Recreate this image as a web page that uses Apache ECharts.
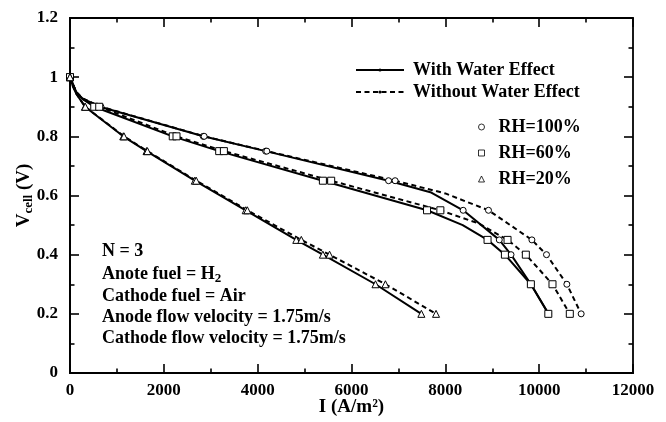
<!DOCTYPE html>
<html><head><meta charset="utf-8">
<script src="https://cdn.jsdelivr.net/npm/echarts@6/dist/echarts.min.js"></script>
<style>html,body{margin:0;padding:0;background:#fff}#c{width:666px;height:422px}</style>
</head><body><div id="c"></div>
<script>
// ---- data (I in A/m^2, Vcell in V) ----
const xTicks = [0, 2000, 4000, 6000, 8000, 10000, 12000];
const yTicks = [0, 0.2, 0.4, 0.6, 0.8, 1.0, 1.2];
const markerLevels = [1.0, 0.9, 0.8, 0.75, 0.65, 0.55, 0.45, 0.4, 0.3, 0.2];

const rh100Wet = [[0,1.0],[70,0.973],[130,0.95],[270,0.927],[640,0.9],[2840,0.8],[4170,0.75],[6790,0.65],[7700,0.61],[8380,0.55],[9150,0.45],[9400,0.4],[9825,0.3],[10200,0.2]];
const rh100Dry = [[0,1.0],[70,0.973],[130,0.95],[270,0.928],[660,0.9],[2860,0.8],[4195,0.75],[6930,0.65],[8000,0.607],[8920,0.55],[9845,0.45],[10156,0.4],[10590,0.3],[10895,0.2]];
const rh60Wet  = [[0,1.0],[70,0.973],[130,0.95],[270,0.926],[517,0.9],[2190,0.8],[3180,0.75],[5390,0.65],[7610,0.55],[8370,0.5],[8900,0.45],[9270,0.4],[9823,0.3],[10195,0.2]];
const rh60Dry  = [[0,1.0],[70,0.973],[130,0.95],[270,0.928],[623,0.9],[2270,0.8],[3280,0.75],[5567,0.65],[7894,0.55],[8720,0.505],[9326,0.45],[9716,0.4],[10284,0.3],[10653,0.2]];
const rh20Wet  = [[0,1.0],[60,0.97],[130,0.945],[319,0.9],[1135,0.8],[1631,0.75],[2660,0.65],[3745,0.55],[4823,0.45],[5390,0.4],[6511,0.3],[7489,0.2]];
const rh20Dry  = [[0,1.0],[60,0.97],[130,0.945],[326,0.9],[1150,0.8],[1650,0.75],[2690,0.65],[3780,0.55],[4930,0.45],[5532,0.4],[6723,0.3],[7802,0.2]];

const legendLines = ['With Water Effect', 'Without Water Effect'];
const legendRH = ['RH=100%', 'RH=60%', 'RH=20%'];
const notes = ['N = 3', 'Anote fuel = H', 'Cathode fuel = Air', 'Anode flow velocity = 1.75m/s', 'Cathode flow velocity = 1.75m/s'];

// ---- styling ----
const FONT = "'Liberation Serif','Times New Roman',Times,serif";
const DASH = [5, 3.5];

function toItems(pts, sym) {
  return pts.map(p => ({ value: p, symbol: markerLevels.includes(p[1]) ? sym : 'none' }));
}
function curve(name, pts, sym, size, dashed) {
  return {
    type: 'line', name: name, xAxisIndex: 0, yAxisIndex: 0, data: toItems(pts, sym),
    symbolSize: size, showAllSymbol: true, smooth: false,
    lineStyle: { color: '#000', width: 2, type: dashed ? DASH : 'solid', join: 'round' },
    itemStyle: { color: '#fff', borderColor: '#000', borderWidth: 1 },
    emphasis: { disabled: true }, silent: true
  };
}

// frame axes carrying inward ticks
function frameAxis(pos, range) {
  return Object.assign({
    type: 'value', position: pos, offset: 0,
    axisLine: { show: true, onZero: false, lineStyle: { color: '#000', width: 1.8 } },
    axisTick: { show: true, inside: true, length: 9, lineStyle: { color: '#000', width: 1.6 } },
    minorTick: { show: true, splitNumber: 2, length: 4.5, lineStyle: { color: '#000', width: 1.6 } },
    axisLabel: { show: false },
    splitLine: { show: false }, minorSplitLine: { show: false }
  }, range);
}
const labelStyle = { color: '#000', fontFamily: FONT, fontWeight: 'bold', fontSize: 17 };

const xRange = { min: xTicks[0], max: xTicks[xTicks.length - 1], interval: xTicks[1] - xTicks[0] };
const yRange = { min: yTicks[0], max: yTicks[yTicks.length - 1], interval: 0.2 };

const chart = echarts.init(document.getElementById('c'), null, { renderer: 'canvas' });
const legendText = { color: '#000', fontFamily: FONT, fontWeight: 'bold', fontSize: 18, lineHeight: 18 };

const noteY = [251, 274, 296, 317, 338];
const graphics = notes.map((t, i) => {
  const isH2 = i === 1;
  return {
    type: 'text', x: 102, y: noteY[i], silent: true,
    style: isH2 ? {
      text: '{a|' + t + '}{b|2}',
      verticalAlign: 'middle',
      rich: {
        a: { fontFamily: FONT, fontWeight: 'bold', fontSize: 18, lineHeight: 22, fill: '#000', color: '#000' },
        b: { fontFamily: FONT, fontWeight: 'bold', fontSize: 13, lineHeight: 12, verticalAlign: 'bottom', fill: '#000', color: '#000' }
      }
    } : {
      text: t, verticalAlign: 'middle',
      font: 'bold 18px ' + FONT, fill: '#000'
    }
  };
});

chart.setOption({
  animation: false,
  backgroundColor: '#fff',
  grid: { left: 70, right: 33, top: 18, bottom: 49, containLabel: false, outerBoundsMode: 'none' },
  xAxis: [
    Object.assign({ type: 'value', position: 'bottom', name: 'I (A/m²)', nameLocation: 'middle', nameGap: 25, nameMoveOverlap: false,
      nameTextStyle: { color: '#000', fontFamily: FONT, fontWeight: 'bold', fontSize: 19 },
      axisLine: { show: true, onZero: false, lineStyle: { color: '#000', width: 1.8 } },
      axisTick: { show: false }, splitLine: { show: false },
      axisLabel: Object.assign({ margin: 9, formatter: v => String(v) }, labelStyle) }, xRange),
    frameAxis('top', xRange),
    frameAxis('bottom', xRange)
  ],
  yAxis: [
    Object.assign({ type: 'value', position: 'left', name: '{a|V}{b|cell}{a| (V)}', nameLocation: 'middle', nameGap: 35, nameRotate: 90, nameMoveOverlap: false,
      nameTextStyle: { rich: {
        a: { color: '#000', fontFamily: FONT, fontWeight: 'bold', fontSize: 19, lineHeight: 22 },
        b: { color: '#000', fontFamily: FONT, fontWeight: 'bold', fontSize: 13, lineHeight: 12, verticalAlign: 'bottom' } } },
      axisLine: { show: true, onZero: false, lineStyle: { color: '#000', width: 1.8 } },
      axisTick: { show: false }, splitLine: { show: false },
      axisLabel: Object.assign({ margin: 12, formatter: v => String(+v.toFixed(1)) }, labelStyle) }, yRange),
    frameAxis('right', yRange),
    frameAxis('left', yRange)
  ],
  legend: [
    { data: legendLines, orient: 'vertical', left: 355, top: 61, padding: 0, itemWidth: 48, itemHeight: 4, itemGap: 4,
      selectedMode: false, textStyle: Object.assign({ padding: [0, 0, 0, 4] }, legendText) },
    { data: [{ name: legendRH[0], icon: 'circle' }, { name: legendRH[1], icon: 'rect' }, { name: legendRH[2], icon: 'triangle' }],
      orient: 'vertical', left: 478, top: 118, padding: 0, itemWidth: 6, itemHeight: 6, itemGap: 8, selectedMode: false,
      itemStyle: { color: '#fff', borderColor: '#000', borderWidth: 1 },
      textStyle: Object.assign({ padding: [0, 0, 0, 9] }, legendText) }
  ],
  graphic: graphics,
  series: [
    { type: 'line', name: legendLines[0], data: [], symbol: 'circle', symbolSize: 3, itemStyle: { color: '#000' }, lineStyle: { color: '#000', width: 2 } },
    { type: 'line', name: legendLines[1], data: [], symbol: 'circle', symbolSize: 3, itemStyle: { color: '#000' }, lineStyle: { color: '#000', width: 2, type: DASH } },
    { type: 'scatter', name: legendRH[0], data: [], symbol: 'circle', itemStyle: { color: '#fff', borderColor: '#000', borderWidth: 1 } },
    { type: 'scatter', name: legendRH[1], data: [], symbol: 'rect', itemStyle: { color: '#fff', borderColor: '#000', borderWidth: 1 } },
    { type: 'scatter', name: legendRH[2], data: [], symbol: 'triangle', itemStyle: { color: '#fff', borderColor: '#000', borderWidth: 1 } },
    curve(legendLines[0], rh100Wet, 'circle', 6, false),
    curve(legendLines[1], rh100Dry, 'circle', 6, true),
    curve(legendLines[0], rh60Wet, 'rect', 7, false),
    curve(legendLines[1], rh60Dry, 'rect', 7, true),
    curve(legendLines[0], rh20Wet, 'triangle', 7, false),
    curve(legendLines[1], rh20Dry, 'triangle', 7, true)
  ]
});
</script></body></html>
